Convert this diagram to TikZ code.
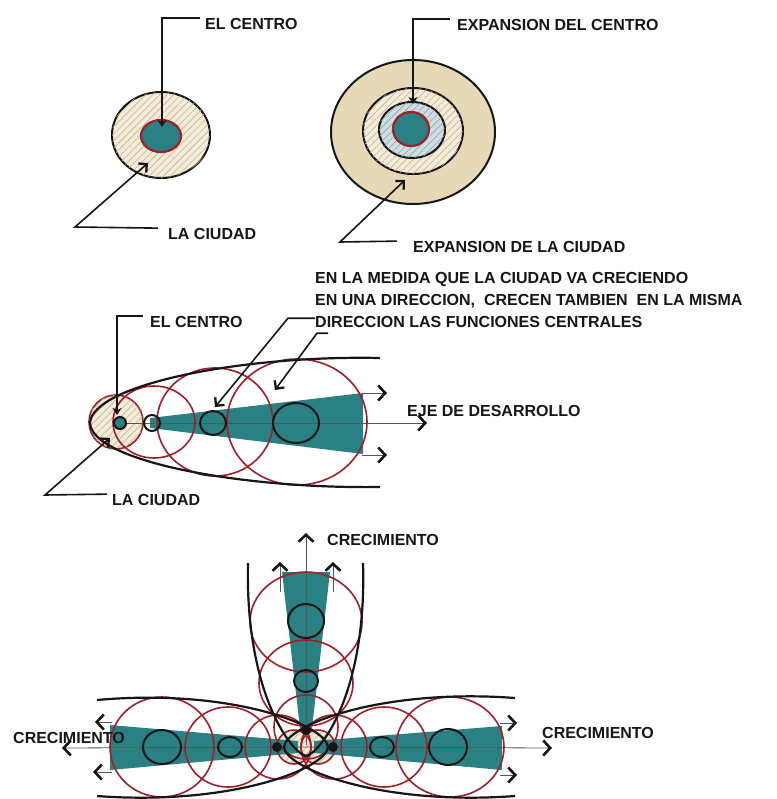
\documentclass[tikz,border=0pt]{standalone}
\usepackage{fontspec}
\setmainfont{Liberation Sans}
\usetikzlibrary{arrows.meta,patterns.meta}
\definecolor{ink}{HTML}{161616}
\definecolor{axisline}{HTML}{555555}
\definecolor{core}{HTML}{2A8183}
\definecolor{rim}{HTML}{A01F28}
\definecolor{sand}{HTML}{E5D9B8}
\definecolor{hatchfill}{HTML}{F3ECD8}
\definecolor{hatchline}{HTML}{CDAE96}
\definecolor{icefill}{HTML}{CFDDE0}
\definecolor{iceline}{HTML}{8FA5AA}

\begin{document}
\begin{tikzpicture}[
  x=1pt, y=-1pt,
  font=\bfseries\fontsize{16}{22}\selectfont,
  text=ink,
  caption/.style={anchor=west, inner sep=0pt},
  leader/.style={draw=ink, line width=1.6pt},
  pointer/.style={leader, -{Stealth[length=7pt,width=9pt]}},
  barb/.style={leader, -{Straight Barb[length=6pt,width=12pt,line width=2.3pt]}},
  growth/.style={draw=axisline, line width=0.8pt,
    -{Straight Barb[length=7pt,width=15pt,line width=2.6pt,color=ink]}},
  rim line/.style={draw=rim, line width=1.6pt},
  nucleus/.style={draw=ink, line width=2pt},
  envelope/.style={draw=ink, line width=2.2pt},
  hatched/.style={fill=hatchfill,
    postaction={pattern={Lines[angle=45,distance=5pt,line width=0.6pt]}, pattern color=hatchline}},
  iced/.style={fill=icefill,
    postaction={pattern={Lines[angle=45,distance=5pt,line width=0.6pt]}, pattern color=iceline}}
]
\path[fill=white, use as bounding box] (0,0) rectangle (776,799);

% The city and its centre
\path[hatched, draw=ink, line width=2pt] (161,135) ellipse [x radius=49, y radius=43];
\path[fill=core, rim line, line width=2.2pt] (161,136) ellipse [x radius=20, y radius=16];

\node[caption] (centroA) at (205,24) {EL CENTRO};
\node[caption] (ciudadA) at (168,234) {LA CIUDAD};
\coordinate (centroAtip) at (162,127);
\coordinate (ciudadAknee) at (75,227);
\coordinate (ciudadAtip) at (148,163);
\draw[pointer] ([xshift=-5pt]centroA.north west) -| (centroAtip);
\draw[barb] ([xshift=-10pt]ciudadA.north west) -- (ciudadAknee) -- (ciudadAtip);

% Expansion of both
\path[fill=sand, draw=ink, line width=2pt] (413,132) ellipse [x radius=82, y radius=72];
\path[hatched, draw=ink, line width=2pt] (413,131) ellipse [x radius=50, y radius=43];
\path[iced, draw=ink, line width=2pt] (412,130) ellipse [x radius=33, y radius=28];
\path[fill=core, rim line, line width=2.2pt] (411,129) ellipse [x radius=18, y radius=17];

\node[caption] (expCentro) at (457,25) {EXPANSION DEL CENTRO};
\node[caption] (expCiudad) at (413,247) {EXPANSION DE LA CIUDAD};
\coordinate (expCentroTip) at (413,104);
\coordinate (expCiudadKnee) at (340,242);
\coordinate (expCiudadTip) at (405,180);
\draw[pointer] ([xshift=-7pt]expCentro.north west) -| (expCentroTip);
\draw[barb] ([xshift=-16pt]expCiudad.north west) -- (expCiudadKnee) -- (expCiudadTip);

% Growth along one axis
\path[hatched, rim line] (116,422) ellipse [x radius=27, y radius=27];
\fill[core] (150,418) -- (363,393) -- (363,454) -- (150,428) -- cycle;
\draw[growth] (120,423) -- (427,423);
\draw[growth] (362,393) -- (387,393);
\draw[growth] (362,455) -- (387,455);
\foreach \cx/\rx/\ry in {154/41/36, 215/58/54, 297/70/63}
  \draw[rim line] (\cx,422) ellipse [x radius=\rx, y radius=\ry];
\path[nucleus, fill=core] (120,423) circle [radius=6];
\foreach \cx/\rx/\ry in {152/8/8, 213/13/12, 296/23/20}
  \draw[nucleus] (\cx,423) ellipse [x radius=\rx, y radius=\ry];
\draw[envelope] (380,358) .. controls (240,355) and (92,385) .. (90,423)
  .. controls (92,461) and (240,489) .. (380,487);

\node[caption] (centroB) at (150,322) {EL CENTRO};
\node[caption] (ciudadB) at (112,500) {LA CIUDAD};
\node[caption] (eje) at (407,411) {EJE DE DESARROLLO};
\node[caption, anchor=north west, align=left] (medida) at (315,272)
  {EN LA MEDIDA QUE LA CIUDAD VA CRECIENDO\\
   EN UNA DIRECCION,\ \ CRECEN TAMBIEN\ \ EN LA MISMA\\
   DIRECCION LAS FUNCIONES CENTRALES};
\coordinate (centroBtip) at (117,415);
\coordinate (ciudadBknee) at (45,495);
\coordinate (ciudadBtip) at (110,438);
\coordinate (medidaTipA) at (215,407);
\coordinate (medidaTipB) at (275,390);
\draw[pointer] ([xshift=-7pt]centroB.north west) -| (centroBtip);
\draw[barb] ([xshift=-5pt]ciudadB.north west) -- (ciudadBknee) -- (ciudadBtip);
\draw[barb] ([yshift=9.5pt]medida.south west) -- ++(-27,0) -- (medidaTipA);
\draw[barb] ([xshift=13pt,yshift=-5.5pt]medida.south west) -- ++(-11,0) -- (medidaTipB);

% Growth in three directions
\foreach \cx in {294,318}
  \path[hatched] (\cx,747) circle [radius=17];
\fill[core] (110,725) -- (298,741) -- (298,753) -- (110,770) -- cycle;
\fill[core] (502,726) -- (314,741) -- (314,753) -- (502,770) -- cycle;
\fill[core] (282,572) -- (330,572) -- (312,728) -- (300,728) -- cycle;

\draw[growth] (306,745) -- (306,533);
\draw[growth] (306,747) -- (62,748);
\draw[growth] (306,747) -- (552,748);
\foreach \x in {280,333}
  \draw[growth] (\x,592) -- (\x,562);
\draw[growth] (112,722) -- (95,722);
\draw[growth] (112,772) -- (93,772);
\draw[growth] (500,723) -- (517,723);
\draw[growth] (500,775) -- (517,775);

\foreach \cx/\cy/\rx/\ry in {306/622/56/50, 306/683/47/43, 306/727/32/32,
    162/747/52/50, 228/747/43/40, 278/747/33/32,
    450/747/54/50, 384/747/43/40, 334/747/33/32,
    294/747/17/17, 318/747/17/17}
  \draw[rim line] (\cx,\cy) ellipse [x radius=\rx, y radius=\ry];
\foreach \cx/\cy/\rx/\ry in {306/621/18/17, 306/681/12/11, 162/747/19/17,
    230/747/12/10, 448/747/19/18, 382/747/12/10}
  \draw[nucleus] (\cx,\cy) ellipse [x radius=\rx, y radius=\ry];
\foreach \cx/\cy in {306/730, 277/747, 333/747}
  \fill[ink] (\cx,\cy) circle [radius=5];

\draw[envelope] (248,563) .. controls (245,690) and (290,752) .. (306,756)
  .. controls (322,752) and (367,690) .. (363,563);
\draw[envelope] (97,700) .. controls (230,688) and (326,725) .. (328,747)
  .. controls (326,769) and (230,806) .. (97,796);
\draw[envelope] (515,698) .. controls (382,688) and (286,725) .. (284,747)
  .. controls (286,769) and (382,806) .. (515,796);

\node[caption] (crecNorte) at (327,540) {CRECIMIENTO};
\node[caption] (crecOeste) at (13,738) {CRECIMIENTO};
\node[caption] (crecEste) at (542,733) {CRECIMIENTO};

\end{tikzpicture}
\end{document}
